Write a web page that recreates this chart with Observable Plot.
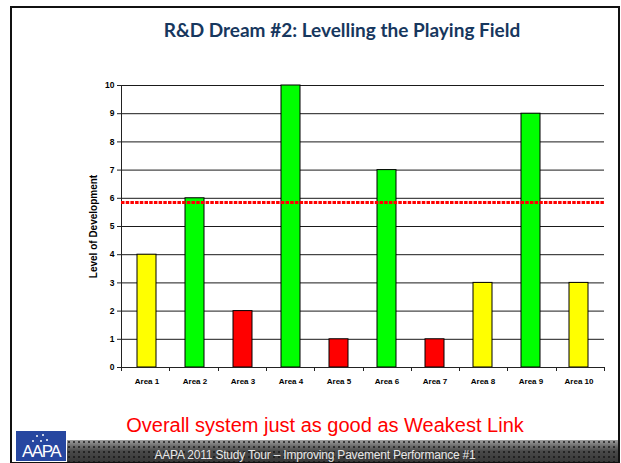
<!DOCTYPE html>
<html>
<head>
<meta charset="utf-8">
<script src="https://cdn.jsdelivr.net/npm/d3@7"></script>
<script src="https://cdn.jsdelivr.net/npm/@observablehq/plot@0.6"></script>
<style>
  html, body { margin: 0; padding: 0; background: #fff; }
  #slide { position: relative; width: 621px; height: 463px; overflow: hidden; background: #fff; }
  #frame { position: absolute; left: 10px; top: 6px; width: 606px; height: 454px; border: 2px solid #111; box-sizing: content-box; }
  #title { position: absolute; left: 0; width: 684px; top: 18px; text-align: center; font: bold 19px Lato, "Open Sans", sans-serif; color: #17375E; }
  #chart { position: absolute; left: 0; top: 0; }
  #note { position: absolute; left: 0; width: 650px; top: 414px; text-align: center; font: 20px "Liberation Sans", Arial, sans-serif; color: #ff0000; }
  #band { position: absolute; left: 67px; top: 440px; width: 551px; height: 22px;
          background:
            radial-gradient(circle at 2px 2px, rgba(20,20,20,0.7) 1px, transparent 1.5px) 0 0 / 5px 5px,
            linear-gradient(#a0a0a0 0px, #757575 5px, #4a4a4a 11px, #383838 22px); }
  #footer { position: absolute; left: 0; width: 630px; top: 448px; text-align: center; font: 12px "Liberation Sans", Arial, sans-serif; color: #e8e8e8; letter-spacing: -0.2px; }
  #logo { position: absolute; left: 16px; top: 431px; width: 50px; height: 30px; background: #2747a0; overflow: hidden; }
  #logo span.t { position: absolute; left: 0; width: 50px; top: 11px; text-align: center; font: 17px "Liberation Sans", Arial, sans-serif; color: #fff; letter-spacing: -1.5px; }
  #logo i { position: absolute; width: 2px; height: 2px; background: #fff; border-radius: 1px; }
</style>
</head>
<body>
<div id="slide">
  <div id="frame"></div>
  <div id="title"></div>
  <div id="chart"></div>
  <div id="note"></div>
  <div id="band"></div>
  <div id="footer"></div>
  <div id="logo"><i style="left:20px;top:4px"></i><i style="left:26px;top:3px"></i><i style="left:16px;top:9px"></i><i style="left:24px;top:9px"></i><i style="left:30px;top:8px"></i><span class="t">AAPA</span></div>
</div>
<script>
// ---- data ----
const titleText = "R&D Dream #2: Levelling the Playing Field";
const noteText = "Overall system just as good as Weakest Link";
const footerText = "AAPA 2011 Study Tour \u2013 Improving Pavement Performance #1";
const yLabel = "Level of Development";
const areas = ["Area 1", "Area 2", "Area 3", "Area 4", "Area 5", "Area 6", "Area 7", "Area 8", "Area 9", "Area 10"];
const levels = [4, 6, 2, 10, 1, 7, 1, 3, 9, 3];
const status = ["medium", "high", "low", "high", "low", "high", "low", "medium", "high", "medium"];
const statusKinds = ["low", "medium", "high"];
const threshold = 5.85;
const yTicks = [0, 1, 2, 3, 4, 5, 6, 7, 8, 9, 10];

document.getElementById("title").textContent = titleText;
document.getElementById("note").textContent = noteText;
document.getElementById("footer").textContent = footerText;

const rows = areas.map((a, i) => ({area: a, level: levels[i], status: status[i]}));

// Excel-style category boundary ticks + value axis line
function axisLines(index, scales, values, dims) {
  const {width, height, marginLeft, marginRight, marginTop, marginBottom} = dims;
  const n = areas.length;
  const step = (width - marginLeft - marginRight) / n;
  const y0 = height - marginBottom;
  const g = d3.create("svg:g").attr("stroke", "#222").attr("stroke-width", 1);
  for (let i = 0; i <= n; i++) {
    const x = Math.round(marginLeft + i * step) + 0.5;
    g.append("line").attr("x1", x).attr("x2", x).attr("y1", y0).attr("y2", y0 + 4);
  }
  g.append("line").attr("x1", marginLeft + 0.5).attr("x2", marginLeft + 0.5)
    .attr("y1", marginTop).attr("y2", y0 + 0.5);
  return g.node();
}

const plot = Plot.plot({
  width: 621,
  height: 400,
  marginLeft: 121,
  marginRight: 17,
  marginTop: 85,
  marginBottom: 33,
  style: {background: "transparent", fontFamily: "'Liberation Sans', Arial, sans-serif"},
  x: {domain: areas, paddingInner: 0.6, paddingOuter: 0.3, label: null},
  y: {domain: [0, 10], ticks: yTicks, label: null},
  color: {domain: statusKinds, range: ["#ff0000", "#ffff00", "#00ff00"]},
  marks: [
    Plot.gridY(yTicks, {stroke: "#1a1a1a", strokeOpacity: 1, strokeWidth: 1}),
    Plot.axisY(yTicks, {tickSize: 4, tickPadding: 3, fontSize: 8.5, fontWeight: "bold", stroke: "#222", label: null}),
    Plot.axisX({tickSize: 0, tickPadding: 11, fontSize: 8, fontWeight: "bold", label: null}),
    Plot.text([yLabel], {frameAnchor: "left", dx: -28, rotate: -90, textAnchor: "middle", fontSize: 10, fontWeight: "bold", fill: "#000"}),
    Plot.barY(rows, {x: "area", y: "level", fill: "status", stroke: "#000", strokeWidth: 1}),
    Plot.ruleY([0], {stroke: "#222"}),
    axisLines,
    Plot.ruleY([threshold], {stroke: "#ff0000", strokeWidth: 3, strokeDasharray: "3.5,1.2"})
  ]
});
document.getElementById("chart").appendChild(plot);
</script>
</body>
</html>
